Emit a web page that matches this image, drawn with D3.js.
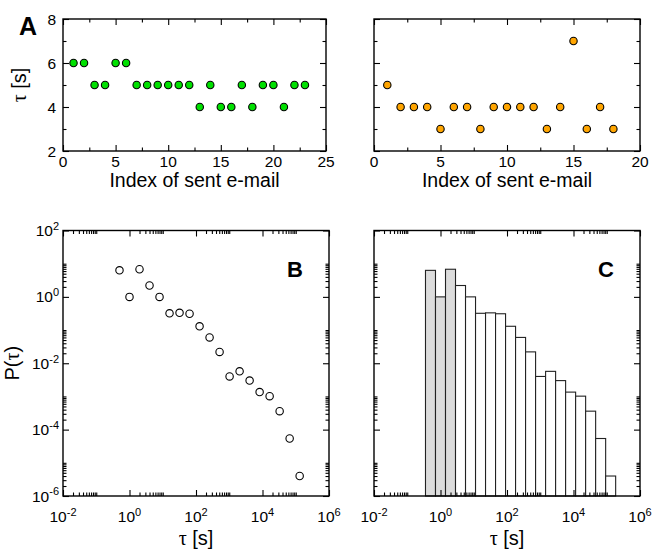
<!DOCTYPE html>
<html>
<head>
<meta charset="utf-8">
<script src="https://cdn.jsdelivr.net/npm/d3@7"></script>
<style>
  body { margin: 0; background: #fff; }
  svg { display: block; font-family: "Liberation Sans", Arial, sans-serif; }
</style>
</head>
<body>
<svg id="chart" width="664" height="558"></svg>
<script>
// ---- data ----
const indexUser1 = [1,2,3,4,5,6,7,8,9,10,11,12,13,14,15,16,17,18,19,20,21,22,23];
const tauUser1   = [6,6,5,5,6,6,5,5,5,5,5,5,4,5,4,4,5,4,5,5,4,5,5];
const indexUser2 = [1,2,3,4,5,6,7,8,9,10,11,12,13,14,15,16,17,18];
const tauUser2   = [5,4,4,4,3,4,4,3,4,4,4,4,3,4,7,3,4,3];

// log-binned waiting times (bin centre, s) and P(tau)
const tauBins = [0.5,1,2,4,8,16,32,64,128,256,512,1024,2048,4096,8192,16384,32768,65536,131072];
const pTau    = [6.3,1.0,6.8,2.2,1.0,0.32,0.33,0.31,0.13,0.06,0.022,0.004,0.0057,0.003,0.00135,0.00102,0.00036,5.4e-5,4e-6];
const greyBins = 3; // first bins drawn grey in panel C

// tick labels
const linTicksY = [2,4,6,8];
const linMinorY = [3,5,7];
const ticksA = [0,5,10,15,20,25];
const minorA = [2.5,7.5,12.5,17.5,22.5];
const ticksA2 = [0,5,10,15,20];
const minorA2 = [2.5,7.5,12.5,17.5];
const logTicksX = [1e-2,1e0,1e2,1e4,1e6];
const logTicksY = [1e-6,1e-4,1e-2,1e0,1e2];
const minorMult = [2,3,4,5,6,7,8,9,10];

const svg = d3.select("#chart");

// 対数軸の補助目盛り: 主目盛り×2..10
function logMinor(majors) {
  const out = [];
  majors.slice(0, -1).forEach(m => minorMult.forEach(k => out.push(m * k)));
  return out;
}

// 枠と内向きの目盛り (四辺)
function frame(g, x, y, w, h, mx, nx, my, ny) {
  const sides = [
    [d3.axisBottom(x), `translate(0,${h})`, mx, nx],
    [d3.axisTop(x), "translate(0,0)", mx, nx],
    [d3.axisLeft(y), "translate(0,0)", my, ny],
    [d3.axisRight(y), `translate(${w},0)`, my, ny]
  ];
  sides.forEach(([ax, tr, major, minor]) => {
    [[major, 6], [minor, 3.5]].forEach(([vals, len]) => {
      const a = g.append("g").attr("transform", tr)
        .call(ax.tickValues(vals).tickSize(-len).tickFormat(""));
      a.select(".domain").remove();
      a.selectAll("line").attr("stroke", "#000").attr("stroke-width", 1.1);
    });
  });
  g.append("rect").attr("width", w).attr("height", h)
    .attr("fill", "none").attr("stroke", "#000").attr("stroke-width", 1.4);
}

function logLabel(sel, v) {
  const e = Math.round(Math.log10(v));
  sel.text("10");
  sel.append("tspan").attr("dy", "-0.55em").attr("font-size", 11).text(e);
}

// ---- panel A (top row) ----
function scatterPanel(left, right, idx, vals, xMax, xt, xn, color, showY) {
  const top = 19, bottom = 151, w = right - left, h = bottom - top;
  const x = d3.scaleLinear().domain([0, xMax]).range([0, w]);
  const y = d3.scaleLinear().domain([2, 8]).range([h, 0]);
  const g = svg.append("g").attr("transform", `translate(${left},${top})`);

  g.selectAll("circle").data(idx).enter().append("circle")
    .attr("cx", d => x(d))
    .attr("cy", (d, i) => y(vals[i]))
    .attr("r", 3.7)
    .attr("fill", color).attr("stroke", "#000").attr("stroke-width", 1.1);

  frame(g, x, y, w, h, xt, xn, linTicksY, linMinorY);

  g.selectAll(".xl").data(xt).enter().append("text")
    .attr("x", d => x(d)).attr("y", h + 15.5)
    .attr("text-anchor", "middle").attr("font-size", 15.5).text(d => d);
  if (showY) {
    g.selectAll(".yl").data(linTicksY).enter().append("text")
      .attr("x", -7).attr("y", d => y(d)).attr("dy", "0.36em")
      .attr("text-anchor", "end").attr("font-size", 15.5).text(d => d);
    const yt = g.append("text")
      .attr("transform", `translate(${-37},${h / 2}) rotate(-90)`)
      .attr("text-anchor", "middle").attr("font-size", 20);
    yt.append("tspan").attr("font-family", "Liberation Serif").text("τ");
    yt.append("tspan").text(" [s]");
  }
  g.append("text").attr("x", w / 2).attr("y", h + 35.5)
    .attr("text-anchor", "middle").attr("font-size", 19.5).text("Index of sent e-mail");
}

scatterPanel(63, 326, indexUser1, tauUser1, 25, ticksA, minorA, "#00e000", true);
scatterPanel(374, 640, indexUser2, tauUser2, 20, ticksA2, minorA2, "#ffa500", false);

svg.append("text").attr("x", 19).attr("y", 35)
  .attr("font-size", 25).attr("font-weight", "bold").text("A");

// ---- panels B and C (bottom row) ----
function logPanel(left, right, letter, kind) {
  const top = 230.5, bottom = 496, w = right - left, h = bottom - top;
  const x = d3.scaleLog().domain([1e-2, 1e6]).range([0, w]);
  const y = d3.scaleLog().domain([1e-6, 1e2]).range([h, 0]);
  const g = svg.append("g").attr("transform", `translate(${left},${top})`);

  if (kind === "points") {
    g.selectAll("circle").data(tauBins).enter().append("circle")
      .attr("cx", d => x(d))
      .attr("cy", (d, i) => y(pTau[i]))
      .attr("r", 3.7)
      .attr("fill", "none").attr("stroke", "#000").attr("stroke-width", 1.1);
  } else {
    g.selectAll("rect.bar").data(tauBins).enter().append("rect")
      .attr("class", "bar")
      .attr("x", d => x(d / Math.SQRT2))
      .attr("width", d => x(d * Math.SQRT2) - x(d / Math.SQRT2))
      .attr("y", (d, i) => y(pTau[i]))
      .attr("height", (d, i) => h - y(pTau[i]))
      .attr("fill", (d, i) => i < greyBins ? "#dcdcdc" : "#fff")
      .attr("stroke", "#222").attr("stroke-width", 1.1);
  }

  frame(g, x, y, w, h, logTicksX, logMinor(logTicksX), logTicksY, logMinor(logTicksY));

  g.selectAll(".xl").data(logTicksX).enter().append("text")
    .attr("x", d => x(d)).attr("y", h + 26)
    .attr("text-anchor", "middle").attr("font-size", 15.5)
    .each(function(d) { logLabel(d3.select(this), d); });

  if (kind === "points") {
    g.selectAll(".yl").data(logTicksY).enter().append("text")
      .attr("x", -4).attr("y", d => y(d) + 5.5)
      .attr("text-anchor", "end").attr("font-size", 15.5)
      .each(function(d) { logLabel(d3.select(this), d); });
    const yt = g.append("text")
      .attr("transform", `translate(${-44},${h / 2}) rotate(-90)`)
      .attr("text-anchor", "middle").attr("font-size", 20);
    yt.append("tspan").text("P(");
    yt.append("tspan").attr("font-family", "Liberation Serif").text("τ");
    yt.append("tspan").text(")");
  }

  const xt = g.append("text").attr("x", w / 2).attr("y", h + 49)
    .attr("text-anchor", "middle").attr("font-size", 20);
  xt.append("tspan").attr("font-family", "Liberation Serif").text("τ");
  xt.append("tspan").text(" [s]");

  g.append("text").attr("x", w - 26).attr("y", 46.5)
    .attr("text-anchor", "end").attr("font-size", 22).attr("font-weight", "bold").text(letter);
}

logPanel(63, 329, "B", "points");
logPanel(374, 640, "C", "bars");
</script>
</body>
</html>
